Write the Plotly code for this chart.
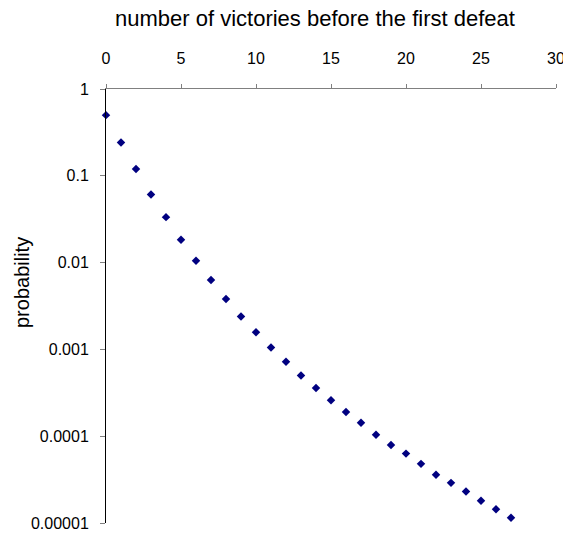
import plotly.graph_objects as go

victories = list(range(28))
probability = [0.5, 0.242, 0.12, 0.061, 0.0334, 0.0183, 0.0105, 0.0063, 0.0038, 0.0024,
               0.00158, 0.00105, 0.00072, 0.0005, 0.00036, 0.00026, 0.00019, 0.000143,
               0.000104, 0.000079, 0.000063, 0.000048, 0.000036, 0.000029, 0.000023,
               0.000018, 0.0000144, 0.0000115]
y_tickvals = [1, 0.1, 0.01, 0.001, 0.0001, 0.00001]
y_ticktext = ["1", "0.1", "0.01", "0.001", "0.0001", "0.00001"]

FONT = "Liberation Sans, Arial, sans-serif"

fig = go.Figure(go.Scatter(
    x=victories, y=probability, mode="markers",
    marker=dict(symbol="diamond", size=6.5, color="#000080"),
    cliponaxis=False,
))

fig.update_layout(
    width=563, height=535,
    margin=dict(l=106, r=7, t=89, b=12),
    paper_bgcolor="white", plot_bgcolor="white",
    showlegend=False,
    font=dict(family=FONT, size=16, color="black"),
    xaxis=dict(
        side="top", range=[0, 30], tick0=0, dtick=5,
        showgrid=False, zeroline=False, automargin=False,
        showline=True, linecolor="#808080", linewidth=1,
        ticks="outside", ticklen=4, tickcolor="#808080",
        tickfont=dict(family=FONT, size=16),
        ticklabeloverflow="allow", ticklabelstandoff=14,
    ),
    yaxis=dict(
        type="log", range=[-5, 0], automargin=False,
        tickvals=y_tickvals, ticktext=y_ticktext,
        showgrid=False, zeroline=False,
        showline=True, linecolor="black", linewidth=1,
        ticks="outside", ticklen=5, tickcolor="#808080",
        tickfont=dict(family=FONT, size=16),
        ticklabeloverflow="allow", ticklabelstandoff=8,
    ),
    annotations=[
        dict(text="number of victories before the first defeat", xref="paper", yref="paper",
             x=(315 - 106) / 450, y=(523 - 18) / 434, xanchor="center", yanchor="middle",
             showarrow=False, font=dict(family=FONT, size=22)),
        dict(text="probability", xref="paper", yref="paper",
             x=(22 - 106) / 450, y=(523 - 283) / 434, xanchor="center", yanchor="middle",
             textangle=-90, showarrow=False, font=dict(family=FONT, size=20)),
    ],
)

fig.write_html(
    "out.html",
    config={"displayModeBar": False},
    post_script="document.body.style.margin='0';document.body.style.overflow='hidden';",
)
